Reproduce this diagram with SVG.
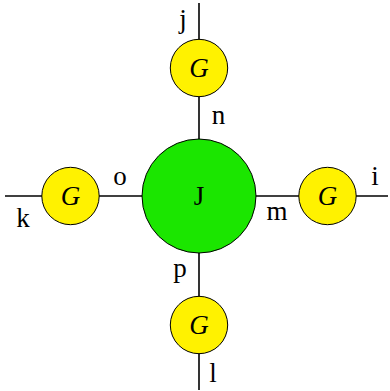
<svg xmlns="http://www.w3.org/2000/svg" width="390" height="391" viewBox="0 0 390 391">
<style>
.ln{stroke:#000;stroke-width:1.6;fill:none}
.g{fill:#fff200;stroke:#000;stroke-width:1}
.t{font-family:"Liberation Serif",serif;font-size:27px;fill:#000;text-anchor:middle}
.it{font-style:italic}
</style>
<rect width="390" height="391" fill="#fff"/>
<g id="connectors">
<line class="ln" x1="199" y1="3" x2="199" y2="390"/>
<line class="ln" x1="5" y1="196" x2="388" y2="196"/>
</g>
<g id="J"><circle cx="199" cy="196" r="57" fill="#1be600" stroke="#000" stroke-width="1"/><text class="t" x="199" y="205">J</text></g>
<g id="G_top"><circle class="g" cx="199" cy="68" r="28.7"/><text class="t it" x="199" y="77">G</text></g>
<g id="G_left"><circle class="g" cx="70.5" cy="196" r="28.7"/><text class="t it" x="70.5" y="205">G</text></g>
<g id="G_right"><circle class="g" cx="327.5" cy="196" r="28.7"/><text class="t it" x="327.5" y="205">G</text></g>
<g id="G_bottom"><circle class="g" cx="199" cy="325" r="28.7"/><text class="t it" x="199" y="334">G</text></g>
<g id="labels">
<text class="t" x="183" y="28">j</text>
<text class="t" x="218.5" y="124">n</text>
<text class="t" x="120" y="185">o</text>
<text class="t" x="23" y="227">k</text>
<text class="t" x="277" y="220">m</text>
<text class="t" x="375" y="185">i</text>
<text class="t" x="180" y="277">p</text>
<text class="t" x="213" y="382">l</text>
</g>
</svg>
